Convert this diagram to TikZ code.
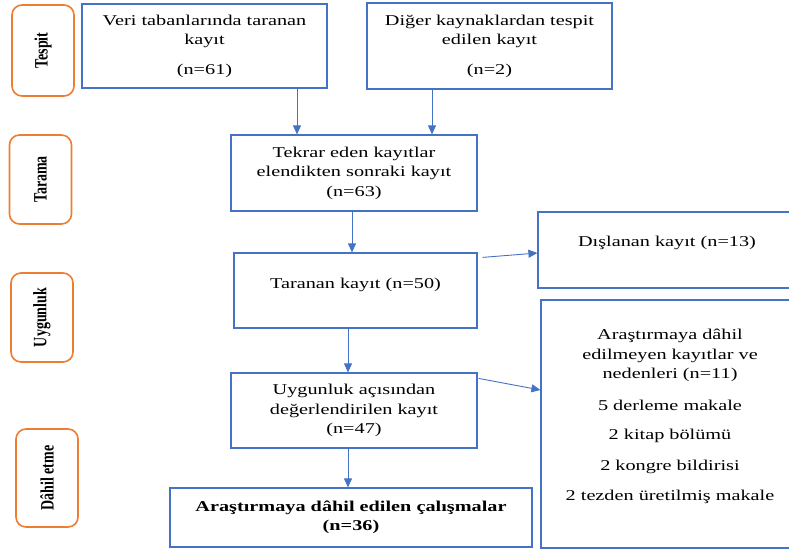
\documentclass[tikz,border=0pt]{standalone}
\usepackage{fontspec}
\usepackage{graphicx}
\setmainfont[FakeStretch=1.35]{Liberation Serif}
\newfontfamily\yanfont{Liberation Serif}
\usetikzlibrary{arrows.meta}
\definecolor{kutumavi}{RGB}{68,114,196}
\definecolor{yanturuncu}{RGB}{237,125,49}
\tikzset{
  kutu/.style={draw=kutumavi, line width=1.2pt, align=center, inner sep=2pt, font=\fontsize{15}{19.5}\selectfont},
  yan/.style={draw=yanturuncu, line width=1.6pt, rounded corners=10pt, rotate=90, minimum height=62pt, font=\yanfont\bfseries\fontsize{14}{16}\selectfont},
  ok/.style={draw=kutumavi, line width=0.9pt, -{Triangle[length=9pt,width=8pt]}},
}
\begin{document}
\begin{tikzpicture}[x=1pt,y=-1pt]
        \useasboundingbox (0,0) rectangle (789,551);
        % asamalar
        \node[yan, minimum width=91pt] (tespit) at (43,50.5) {\scalebox{1}[1.35]{Tespit}};
        \node[yan, minimum width=89pt] (tarama) at (40.5,179.5) {\scalebox{1}[1.35]{Tarama}};
        \node[yan, minimum width=89pt] (uygunluk) at (42,317.5) {\scalebox{1}[1.35]{Uygunluk}};
        \node[yan, minimum width=98pt] (dahiletme) at (47,478) {\scalebox{1}[1.35]{Dâhil etme}};
        % kutular
        \node[kutu, minimum width=245pt, minimum height=84pt] (veri) at (204.5,46) {Veri tabanlarında taranan\\kayıt\\[10pt](n=61)};
        \node[kutu, minimum width=245pt, minimum height=86pt] (diger) at (489.5,46) {Diğer kaynaklardan tespit\\edilen kayıt\\[10pt](n=2)};
        \node[kutu, minimum width=246pt, minimum height=76pt] (tekrar) at (354,173) {Tekrar eden kayıtlar\\elendikten sonraki kayıt\\(n=63)};
        \node[kutu, minimum width=243pt, minimum height=75pt, text depth=15pt] (taranan) at (355.5,290.5) {Taranan kayıt (n=50)};
        \node[kutu, minimum width=246pt, minimum height=75pt] (uygun) at (354,410.5) {Uygunluk açısından\\değerlendirilen kayıt\\(n=47)};
        \node[kutu, minimum width=362pt, minimum height=59pt, font=\fontsize{15}{19.5}\selectfont\bfseries] (dahil) at (351,517.5) {Araştırmaya dâhil edilen çalışmalar\\(n=36)};
        \node[kutu, minimum width=258pt, minimum height=76pt, text depth=18pt] (dislanan) at (667,250) {Dışlanan kayıt (n=13)};
        \node[kutu, minimum width=258pt, minimum height=248pt, text depth=18pt] (haric) at (670,424) {Araştırmaya dâhil\\edilmeyen kayıtlar ve\\nedenleri (n=11)\\[12pt]5 derleme makale\\[10pt]2 kitap bölümü\\[11pt]2 kongre bildirisi\\[11pt]2 tezden üretilmiş makale};
        % oklar
        \draw[ok] (veri.south -| 297,0) -- (tekrar.north -| 297,0);
        \draw[ok] (diger.south -| 432,0) -- (tekrar.north -| 432,0);
        \draw[ok] (tekrar.south -| 352,0) -- (taranan.north -| 352,0);
        \draw[ok] (taranan.south -| 348,0) -- (uygun.north -| 348,0);
        \draw[ok] (uygun.south -| 348,0) -- (dahil.north -| 348,0);
        \draw[ok] ([shift={(5pt,-5pt)}]taranan.north east) -- ([yshift=-3pt]dislanan.west);
        \draw[ok] ([shift={(1pt,-6pt)}]uygun.north east) -- ([yshift=34pt]haric.west);
    \end{tikzpicture}
\end{document}
